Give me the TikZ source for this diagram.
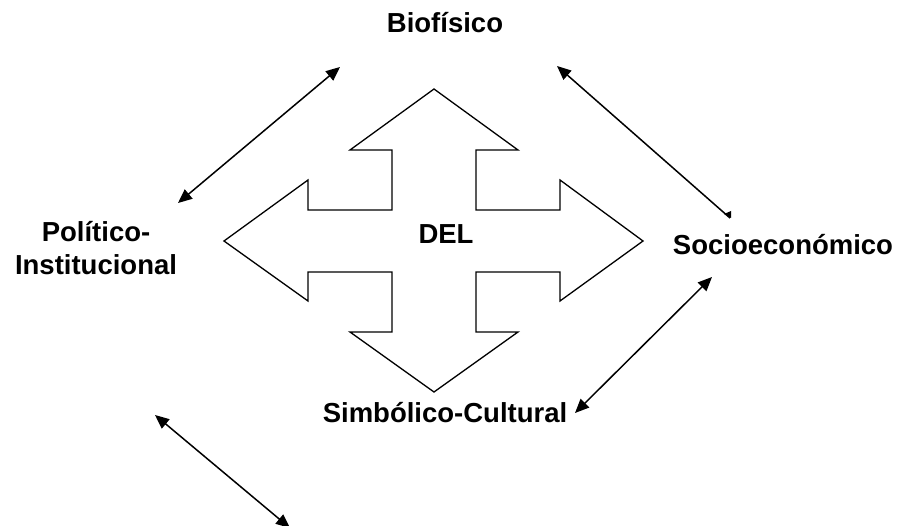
\documentclass[tikz,border=0pt]{standalone}
\usepackage{fontspec}
\setmainfont{Liberation Sans}
\usetikzlibrary{arrows.meta}
\begin{document}
\begin{tikzpicture}[x=1pt,y=-1pt,
  lbl/.style={font=\bfseries\fontsize{27.5}{33}\selectfont, inner sep=0pt, anchor=base, align=center},
  link/.style={line width=1.5pt, {Triangle[length=14pt,width=12pt]}-{Triangle[length=14pt,width=12pt]}},
  crossline/.style={line width=1.3pt, line join=miter}]
\useasboundingbox (0,0) rectangle (902,526);
\clip (0,0) rectangle (902,526);
% central cross arrow
\draw[crossline] (434,89) -- (518,150) -- (476,150) -- (476,210) -- (560,210) -- (560,180)
  -- (643,241) -- (560,301) -- (560,272) -- (476,272) -- (476,332) -- (518,332)
  -- (434,392) -- (350,332) -- (392,332) -- (392,272) -- (308,272) -- (308,301)
  -- (224,241) -- (308,180) -- (308,210) -- (392,210) -- (392,150) -- (350,150) -- cycle;
% labels
\node[lbl] (del) at (446,244) {DEL};
\node[lbl] (bio) at (445,33) {Biofísico};
\node[lbl] (pol) at (96,275) {Político-\\Institucional};
\node[lbl] (soc) at (783,255) {Socioeconómico};
\node[lbl] (sim) at (445,422) {Simbólico-Cultural};
% connector end points
\coordinate (a1) at (340,67);
\coordinate (a2) at (178,203);
\coordinate (b1) at (557,66);
\coordinate (b2) at (730,218);
\coordinate (c1) at (155,415);
\coordinate (c2) at (290,528);
\coordinate (d1) at (712,277);
\coordinate (d2) at (575,413);
\draw[link] (a1) -- (a2);
\draw[line width=1.5pt, {Triangle[length=14pt,width=12pt]}-] (b1) -- (b2);
\fill (724,214) -- (731,211) -- (731,218) -- cycle;
\draw[link] (c1) -- (c2);
\draw[link] (d1) -- (d2);
\end{tikzpicture}
\end{document}
